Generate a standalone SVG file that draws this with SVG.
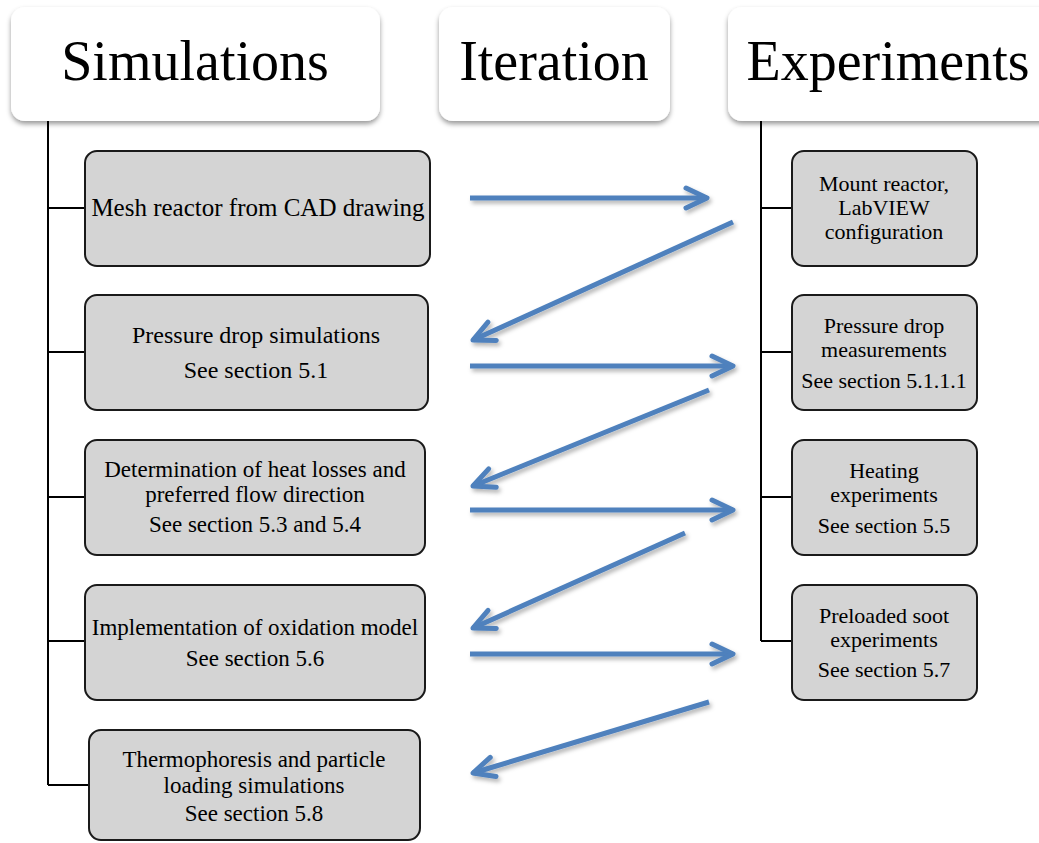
<svg xmlns="http://www.w3.org/2000/svg" width="1039" height="843" viewBox="0 0 1039 843">
<style>
.hdr{fill:#fff;filter:url(#hs)}
.htx{font-family:"Liberation Serif",serif;font-size:56px;fill:#000;text-anchor:middle}
.box{fill:#d4d4d4;stroke:#1a1a1a;stroke-width:2}
.tx{font-family:"Liberation Serif",serif;font-size:24px;fill:#000;text-anchor:middle}
.tx1{font-family:"Liberation Serif",serif;font-size:25px;fill:#000;text-anchor:middle}
.tx3{font-family:"Liberation Serif",serif;font-size:23px;fill:#000;text-anchor:middle}
.rtx{font-family:"Liberation Serif",serif;font-size:22px;fill:#000;text-anchor:middle}
.tree{stroke:#000;stroke-width:2;fill:none}
.arr{stroke:#4f81bd;stroke-width:5;fill:none;marker-end:url(#ah)}
</style>
<defs>
<filter id="hs" x="-10%" y="-10%" width="120%" height="130%">
<feDropShadow dx="0" dy="3" stdDeviation="2.5" flood-color="#000" flood-opacity="0.4"/>
</filter>
<filter id="as" x="-10%" y="-30%" width="120%" height="160%">
<feDropShadow dx="2" dy="3" stdDeviation="2" flood-color="#000" flood-opacity="0.3"/>
</filter>
<marker id="ah" markerUnits="userSpaceOnUse" viewBox="-26 -16 32 32" refX="0" refY="0" markerWidth="32" markerHeight="32" orient="auto" overflow="visible">
<path d="M-21,-10 L0,0 L-21,10" fill="none" stroke="#4f81bd" stroke-width="5" stroke-linecap="round" stroke-linejoin="round"/>
</marker>
</defs>

<g id="header-simulations">
<rect class="hdr" x="11" y="7" width="369" height="114" rx="14"/>
<text class="htx" x="195" y="80">Simulations</text>
</g>
<g id="header-iteration">
<rect class="hdr" x="439" y="7" width="231" height="114" rx="14"/>
<text class="htx" x="554" y="80">Iteration</text>
</g>
<g id="header-experiments">
<rect class="hdr" x="728" y="7" width="330" height="114" rx="14"/>
<text class="htx" x="888" y="80">Experiments</text>
</g>

<g id="connectors">
<path class="tree" d="M48,121 V785 M48,208 H85 M48,352 H85 M48,497 H85 M48,641 H85 M48,785 H89"/>
<path class="tree" d="M761,121 V641 M761,208 H792 M761,352 H792 M761,497 H792 M761,641 H792"/>
<g filter="url(#as)">
<line class="arr" x1="470" y1="198" x2="707" y2="198"/>
<line class="arr" x1="733" y1="222" x2="473" y2="340"/>
<line class="arr" x1="470" y1="366" x2="733" y2="366"/>
<line class="arr" x1="709" y1="390" x2="473" y2="486"/>
<line class="arr" x1="470" y1="510" x2="733" y2="510"/>
<line class="arr" x1="685" y1="533" x2="473" y2="628"/>
<line class="arr" x1="470" y1="654" x2="733" y2="654"/>
<line class="arr" x1="709" y1="702" x2="473" y2="773"/>
</g>
</g>

<g id="sim-mesh">
<rect class="box" x="85" y="151" width="345" height="115" rx="12"/>
<text class="tx1" x="258" y="216">Mesh reactor from CAD drawing</text>
</g>
<g id="sim-pressure">
<rect class="box" x="85" y="295" width="343" height="115" rx="12"/>
<text class="tx" x="256" y="343">Pressure drop simulations</text>
<text class="tx" x="256" y="378">See section 5.1</text>
</g>
<g id="sim-heat">
<rect class="box" x="85" y="440" width="340" height="115" rx="12"/>
<text class="tx3" x="255" y="476.5">Determination of heat losses and</text>
<text class="tx3" x="255" y="502">preferred flow direction</text>
<text class="tx3" x="255" y="532">See section  5.3 and 5.4</text>
</g>
<g id="sim-oxidation">
<rect class="box" x="85" y="585" width="340" height="115" rx="12"/>
<text class="tx3" x="255" y="635">Implementation of oxidation model</text>
<text class="tx3" x="255" y="666">See section 5.6</text>
</g>
<g id="sim-thermo">
<rect class="box" x="89" y="730" width="331" height="110" rx="12"/>
<text class="tx3" x="254" y="767">Thermophoresis and particle</text>
<text class="tx3" x="254" y="792.5">loading simulations</text>
<text class="tx3" x="254" y="821">See section 5.8</text>
</g>

<g id="exp-mount">
<rect class="box" x="792" y="151" width="185" height="115" rx="12"/>
<text class="rtx" x="884" y="191">Mount reactor,</text>
<text class="rtx" x="884" y="215">LabVIEW</text>
<text class="rtx" x="884" y="239">configuration</text>
</g>
<g id="exp-pressure">
<rect class="box" x="792" y="295" width="185" height="115" rx="12"/>
<text class="rtx" x="884" y="333">Pressure drop</text>
<text class="rtx" x="884" y="357">measurements</text>
<text class="rtx" x="884" y="388">See section 5.1.1.1</text>
</g>
<g id="exp-heating">
<rect class="box" x="792" y="440" width="185" height="115" rx="12"/>
<text class="rtx" x="884" y="478">Heating</text>
<text class="rtx" x="884" y="502">experiments</text>
<text class="rtx" x="884" y="533">See section 5.5</text>
</g>
<g id="exp-soot">
<rect class="box" x="792" y="585" width="185" height="115" rx="12"/>
<text class="rtx" x="884" y="623">Preloaded soot</text>
<text class="rtx" x="884" y="647">experiments</text>
<text class="rtx" x="884" y="677">See section 5.7</text>
</g>
</svg>
